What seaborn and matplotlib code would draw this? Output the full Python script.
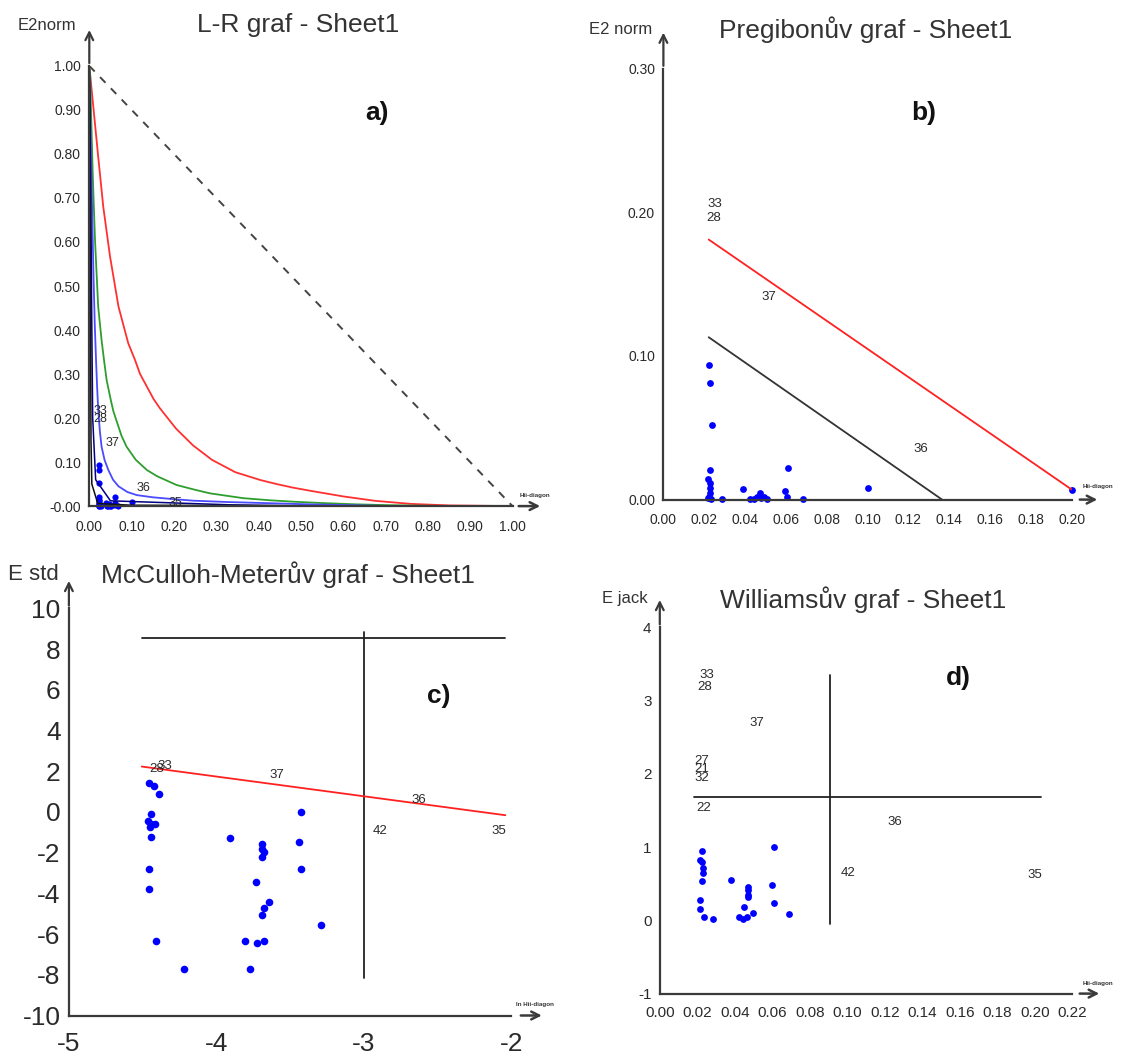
import matplotlib
matplotlib.use("Agg")
import matplotlib.pyplot as plt
import seaborn as sns

sns.set_style("white")
plt.rcParams['font.family'] = ['Liberation Sans', 'DejaVu Sans']

# ---------------- DATA ----------------
# Common points (hat diagonal Hii vs normalised squared residual) - panels a, b
hii_pts = [0.0222, 0.0230, 0.0237, 0.0228, 0.0220, 0.0230, 0.0230, 0.0228, 0.0222, 0.0220,
           0.0232, 0.0286, 0.0388, 0.0424, 0.0445, 0.0460, 0.0473, 0.0480, 0.0493, 0.0506,
           0.0609, 0.0596, 0.0605, 0.0685, 0.1004]
e2_pts = [0.094, 0.081, 0.052, 0.0206, 0.014, 0.0118, 0.0079, 0.0044, 0.0020, 0.0009,
          0.0003, 0.0004, 0.0072, 0.0003, 0.0003, 0.0015, 0.0044, 0.0008, 0.0020, 0.0003,
          0.0218, 0.0060, 0.0020, 0.0004, 0.0083]
hii_35 = [0.200]
e2_35 = [0.007]

# L-R plot curves
lr_red_x = [0.0, 0.0095, 0.021, 0.033, 0.049, 0.069, 0.092, 0.108, 0.120, 0.152, 0.167, 0.205,
            0.245, 0.290, 0.345, 0.405, 0.443, 0.481, 0.521, 0.600, 0.675, 0.760, 0.852, 1.0]
lr_red_y = [1.0, 0.907, 0.794, 0.680, 0.567, 0.453, 0.370, 0.332, 0.300, 0.243, 0.222, 0.176,
            0.138, 0.105, 0.077, 0.059, 0.050, 0.042, 0.035, 0.022, 0.012, 0.005, 0.0015, 0.0]
lr_green_x = [0.0, 0.002, 0.008, 0.0135, 0.021, 0.029, 0.035, 0.041, 0.051, 0.057, 0.076, 0.088,
              0.110, 0.136, 0.160, 0.206, 0.250, 0.285, 0.364, 0.430, 0.482, 0.549, 0.630, 0.709, 0.852]
lr_green_y = [1.0, 0.975, 0.756, 0.604, 0.453, 0.377, 0.330, 0.286, 0.240, 0.215, 0.160, 0.135,
              0.105, 0.082, 0.068, 0.048, 0.037, 0.029, 0.018, 0.013, 0.010, 0.007, 0.004, 0.002, 0.0]
lr_blue_x = [0.0, 0.004, 0.007, 0.010, 0.013, 0.016, 0.0185, 0.021, 0.025, 0.029, 0.036, 0.045,
             0.056, 0.069, 0.090, 0.112, 0.150, 0.191, 0.246, 0.325, 0.520, 0.720]
lr_blue_y = [0.98, 0.80, 0.66, 0.52, 0.41, 0.33, 0.27, 0.22, 0.17, 0.135, 0.105, 0.082,
             0.060, 0.045, 0.032, 0.025, 0.020, 0.0165, 0.0123, 0.0093, 0.004, 0.0]
lr_navy_x = [0.0, 0.002, 0.004, 0.006, 0.008, 0.015, 0.05, 0.33, 0.52]
lr_navy_y = [1.0, 0.85, 0.65, 0.40, 0.20, 0.06, 0.012, 0.003, 0.0]
lr_black_x = [0.0, 0.001, 0.002, 0.003, 0.004, 0.006, 0.02, 0.10, 0.40, 0.85]
lr_black_y = [1.0, 0.90, 0.70, 0.40, 0.15, 0.05, 0.006, 0.002, 0.001, 0.0]
lr_diag_x = [0.0, 1.0]
lr_diag_y = [1.0, 0.0]

# Pregibon plot lines
preg_red_x = [0.0222, 0.200]
preg_red_y = [0.181, 0.007]
preg_black_x = [0.0222, 0.1365]
preg_black_y = [0.113, 0.0]

# McCulloh-Meter plot points and lines
mm_x = [-4.458, -4.420, -4.390, -4.443, -4.462, -4.443, -4.419, -4.450, -4.443, -4.455,
        -4.455, -4.409, -4.220, -3.906, -3.692, -3.692, -3.680, -3.692, -3.734, -3.644,
        -3.680, -3.692, -3.809, -3.724, -3.680, -3.772, -3.429, -3.440, -3.429, -3.293]
mm_y = [1.44, 1.27, 0.87, -0.09, -0.43, -0.60, -0.60, -0.75, -1.22, -2.78,
        -3.78, -6.32, -7.70, -1.30, -1.56, -1.80, -1.98, -2.23, -3.46, -4.41,
        -4.72, -5.04, -6.32, -6.43, -6.32, -7.70, -0.01, -1.50, -2.78, -5.54]
mm_h_x = [-4.506, -2.041]
mm_h_y = [8.57, 8.57]
mm_v_x = [-3.0, -3.0]
mm_v_y = [-8.15, 8.82]
mm_red_x = [-4.506, -2.041]
mm_red_y = [2.23, -0.16]

# Williams plot points and lines
wil_x = [0.0227, 0.0217, 0.0227, 0.0231, 0.0231, 0.0227, 0.0217, 0.0217, 0.0236, 0.0284,
         0.0380, 0.0471, 0.0471, 0.0471, 0.0471, 0.0451, 0.0423, 0.0442, 0.0467, 0.0496,
         0.0607, 0.0598, 0.0607, 0.0688]
wil_y = [0.95, 0.82, 0.79, 0.72, 0.65, 0.54, 0.28, 0.15, 0.05, 0.02,
         0.55, 0.46, 0.42, 0.35, 0.32, 0.18, 0.05, 0.02, 0.04, 0.10,
         1.00, 0.48, 0.24, 0.08]
wil_h_x = [0.0183, 0.203]
wil_h_y = [1.68, 1.68]
wil_v_x = [0.0905, 0.0905]
wil_v_y = [-0.05, 3.35]

# Point labels
lab_a = ["33", "28", "37", "36", "35"]
lab_a_x = [0.027, 0.025, 0.056, 0.127, 0.203]
lab_a_y = [0.215, 0.197, 0.144, 0.040, 0.008]
lab_b = ["33", "28", "37", "36"]
lab_b_x = [0.0252, 0.0245, 0.0517, 0.126]
lab_b_y = [0.206, 0.196, 0.141, 0.035]
lab_c = ["28", "33", "37", "36", "42", "35"]
lab_c_x = [-4.402, -4.349, -3.591, -2.630, -2.889, -2.082]
lab_c_y = [2.09, 2.26, 1.81, 0.58, -0.93, -0.93]
lab_d = ["33", "28", "37", "27", "21", "32", "22", "36", "42", "35"]
lab_d_x = [0.0252, 0.0241, 0.052, 0.0225, 0.0225, 0.0225, 0.0232, 0.1255, 0.1005, 0.200]
lab_d_y = [3.35, 3.19, 2.69, 2.17, 2.06, 1.94, 1.53, 1.34, 0.64, 0.62]

# Tick labels
a_xt = [i / 10 for i in range(11)]
a_xtl = ["0.00", "0.10", "0.20", "0.30", "0.40", "0.50", "0.60", "0.70", "0.80", "0.90", "1.00"]
a_yt = [i / 10 for i in range(11)]
a_ytl = ["-0.00", "0.10", "0.20", "0.30", "0.40", "0.50", "0.60", "0.70", "0.80", "0.90", "1.00"]
b_xt = [i * 0.02 for i in range(11)]
b_xtl = ["0.00", "0.02", "0.04", "0.06", "0.08", "0.10", "0.12", "0.14", "0.16", "0.18", "0.20"]
b_yt = [0.0, 0.1, 0.2, 0.3]
b_ytl = ["0.00", "0.10", "0.20", "0.30"]
c_xt = [-5, -4, -3, -2]
c_xtl = ["-5", "-4", "-3", "-2"]
c_yt = [-10, -8, -6, -4, -2, 0, 2, 4, 6, 8, 10]
c_ytl = ["-10", "-8", "-6", "-4", "-2", "0", "2", "4", "6", "8", "10"]
d_xt = [i * 0.02 for i in range(12)]
d_xtl = ["0.00", "0.02", "0.04", "0.06", "0.08", "0.10", "0.12", "0.14", "0.16", "0.18", "0.20", "0.22"]
d_yt = [-1, 0, 1, 2, 3, 4]
d_ytl = ["-1", "0", "1", "2", "3", "4"]

# ---------------- FIGURE ----------------
W, H = 1125, 1057
fig = plt.figure(figsize=(W / 100, H / 100), dpi=100)
fig.patch.set_facecolor("white")

AX = "#3a3a3a"
TXT = "#2a2a2a"
BLUE = "#0000ff"


def add_ax(x0, x1, ytop, ybot):
    return fig.add_axes([x0 / W, (H - ybot) / H, (x1 - x0) / W, (ybot - ytop) / H])


def style(ax, xlim, ylim, xt, xtl, yt, ytl, fs, xpad, ytop_arrow, xa0, xa1, tiny_xy, tiny_txt):
    ax.set_xlim(xlim)
    ax.set_ylim(ylim)
    ax.set_facecolor("none")
    for s in ["top", "right"]:
        ax.spines[s].set_visible(False)
    for s in ["left", "bottom"]:
        ax.spines[s].set_color(AX)
        ax.spines[s].set_linewidth(1.6)
    ax.set_xticks(xt)
    ax.set_xticklabels(xtl)
    ax.set_yticks(yt)
    ax.set_yticklabels(ytl)
    ax.tick_params(direction="out", length=4, width=1.4, color=AX, labelsize=fs,
                   labelcolor=TXT, pad=2)
    ax.tick_params(axis="x", pad=xpad)
    ax.set_xlabel("")
    ax.set_ylabel("")
    ax.annotate("", xy=(xlim[0], ytop_arrow), xytext=(xlim[0], ylim[1]),
                arrowprops=dict(arrowstyle="->", color=AX, lw=1.6, mutation_scale=14),
                annotation_clip=False)
    ax.annotate("", xy=(xa1, ylim[0]), xytext=(xa0, ylim[0]),
                arrowprops=dict(arrowstyle="->", color=AX, lw=1.8, mutation_scale=14),
                annotation_clip=False)
    ax.text(tiny_xy[0], tiny_xy[1], tiny_txt, fontsize=4.5, fontweight="bold", color="#333",
            ha="center", va="center", clip_on=False)


def labels(ax, txts, xs, ys, fs):
    for t, x, y in zip(txts, xs, ys):
        ax.text(x, y, t, fontsize=fs, color=TXT, ha="center", va="center", clip_on=False)


def line(ax, xs, ys, color, lw=1.2, ls="-"):
    sns.lineplot(x=xs, y=ys, ax=ax, color=color, lw=lw, sort=False, estimator=None,
                 linestyle=ls, legend=False)


# ----- a) L-R graf -----
axa = add_ax(89.3, 512.5, 65.9, 506.1)
line(axa, lr_diag_x, lr_diag_y, "#444444", lw=1.4, ls=(0, (4, 4)))
line(axa, lr_red_x, lr_red_y, "#ff3030", lw=1.3)
line(axa, lr_green_x, lr_green_y, "#2e9e2e", lw=1.3)
line(axa, lr_blue_x, lr_blue_y, "#4a4aff", lw=1.3)
line(axa, lr_navy_x, lr_navy_y, "#000080", lw=1.1)
line(axa, lr_black_x, lr_black_y, "#111111", lw=1.1)
sns.scatterplot(x=hii_pts, y=e2_pts, ax=axa, color=BLUE, s=20, linewidth=0, legend=False, clip_on=False)
labels(axa, lab_a, lab_a_x, lab_a_y, 9)
style(axa, (0, 1), (0, 1), a_xt, a_xtl, a_yt, a_ytl, 10, 6, 1.088, 1.008, 1.072, (1.052, 0.025), "Hii-diagon")

# ----- b) Pregibon -----
axb = add_ax(663.4, 1071.7, 68.6, 499.6)
line(axb, preg_red_x, preg_red_y, "#ff2020", lw=1.3)
line(axb, preg_black_x, preg_black_y, "#333333", lw=1.3)
sns.scatterplot(x=hii_pts, y=e2_pts, ax=axb, color=BLUE, s=24, linewidth=0, legend=False, clip_on=False)
sns.scatterplot(x=hii_35, y=e2_35, ax=axb, color=BLUE, s=24, linewidth=0, legend=False, clip_on=False)
labels(axb, lab_b, lab_b_x, lab_b_y, 9.5)
style(axb, (0, 0.2), (0, 0.3), b_xt, b_xtl, b_yt, b_ytl, 10, 6, 0.327, 0.2026, 0.2139, (0.2129, 0.0088), "Hii-diagon")

# ----- c) McCulloh-Meter -----
axc = add_ax(68.9, 511.4, 608.4, 1015.5)
line(axc, mm_h_x, mm_h_y, "#222222", lw=1.3)
line(axc, mm_v_x, mm_v_y, "#222222", lw=1.3)
line(axc, mm_red_x, mm_red_y, "#ff2020", lw=1.3)
sns.scatterplot(x=mm_x, y=mm_y, ax=axc, color=BLUE, s=30, linewidth=0, legend=False, clip_on=False)
labels(axc, lab_c, lab_c_x, lab_c_y, 9.5)
style(axc, (-5, -2), (-10, 10), c_xt, c_xtl, c_yt, c_ytl, 19, 8, 11.49, -1.955, -1.775, (-1.84, -9.46), "ln Hii-diagon")

# ----- d) Williams -----
axd = add_ax(659.8, 1072.4, 627.2, 993.6)
line(axd, wil_h_x, wil_h_y, "#222222", lw=1.3)
line(axd, wil_v_x, wil_v_y, "#222222", lw=1.3)
sns.scatterplot(x=wil_x, y=wil_y, ax=axd, color=BLUE, s=24, linewidth=0, legend=False, clip_on=False)
labels(axd, lab_d, lab_d_x, lab_d_y, 9.5)
style(axd, (0, 0.22), (-1, 4), d_xt, d_xtl, d_yt, d_ytl, 11, 5, 4.41, 0.2224, 0.2358, (0.2337, -0.868), "Hii-diagon")

# ----- titles, axis names, panel letters -----
def ftext(x, y, s, fs, **kw):
    col = kw.pop("color", "#333333")
    fig.text(x / W, 1 - y / H, s, fontsize=fs, ha="center", va="center", color=col, **kw)

ftext(298, 25, "L-R graf - Sheet1", 19)
ftext(866, 30, "Pregibonův graf - Sheet1", 19)
ftext(288, 575, "McCulloh-Meterův graf - Sheet1", 19)
ftext(863, 600, "Williamsův graf - Sheet1", 19)

ftext(47, 25, "E2norm", 12)
ftext(621, 30, "E2 norm", 12)
ftext(33, 575, "E std", 16)
ftext(625, 598, "E jack", 12)

ftext(377, 113, "a)", 19, fontweight="bold", color="#111111")
ftext(924, 113, "b)", 19, fontweight="bold", color="#111111")
ftext(439, 696, "c)", 19, fontweight="bold", color="#111111")
ftext(958, 678, "d)", 19, fontweight="bold", color="#111111")

fig.savefig("out.png", dpi=100, facecolor="white")
